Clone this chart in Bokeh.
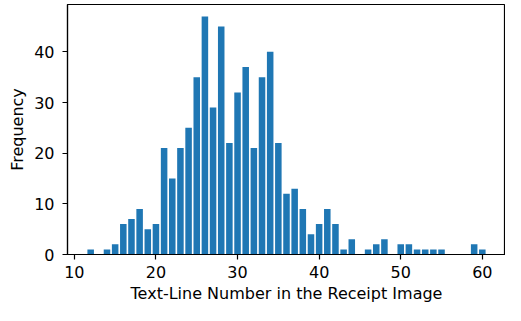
from bokeh.plotting import figure
from bokeh.models import Range1d, FixedTicker, ColumnDataSource
from bokeh.embed import file_html
from bokeh.resources import INLINE

line_numbers = [12, 13, 14, 15, 16, 17, 18, 19, 20, 21, 22, 23, 24, 25, 26, 27, 28, 29, 30,
                31, 32, 33, 34, 35, 36, 37, 38, 39, 40, 41, 42, 43, 44, 45, 46, 47, 48, 49,
                50, 51, 52, 53, 54, 55, 56, 57, 58, 59, 60]
frequency = [1, 0, 1, 2, 6, 7, 9, 5, 6, 21, 15, 21, 25, 35, 47, 29, 45, 22, 32,
             37, 21, 35, 40, 22, 12, 13, 9, 4, 6, 9, 6, 1, 3, 0, 1, 2, 3, 0,
             2, 2, 1, 1, 1, 1, 0, 0, 0, 2, 1]
x_ticks = [10, 20, 30, 40, 50, 60]
y_ticks = [0, 10, 20, 30, 40]

src = ColumnDataSource(data=dict(x=line_numbers, top=frequency))

bar_w = 0.8
xmin, xmax = min(line_numbers) - bar_w / 2, max(line_numbers) + bar_w / 2
pad = (xmax - xmin) * 0.05
ymax = max(frequency) * 1.05

p = figure(width=505, height=305, output_backend="svg", toolbar_location=None,
           x_range=Range1d(xmin - pad, xmax + pad), y_range=Range1d(0, ymax),
           min_border_left=67, min_border_right=0, min_border_top=4, min_border_bottom=10)

p.vbar(x="x", top="top", width=bar_w, source=src, color="#1f77b4", line_color=None)

p.grid.visible = False
p.outline_line_color = "black"
p.outline_line_width = 1.2
p.background_fill_color = "white"
p.border_fill_color = "white"

for ax in (p.xaxis[0], p.yaxis[0]):
    ax.minor_tick_line_color = None
    ax.major_tick_out = 5
    ax.major_tick_in = 0
    ax.major_tick_line_color = "black"
    ax.major_tick_line_width = 1.2
    ax.axis_line_color = "black"
    ax.axis_line_width = 1.2
    ax.major_label_text_font = "DejaVu Sans"
    ax.major_label_text_font_size = "16px"
    ax.major_label_text_color = "black"
    ax.axis_label_text_font = "DejaVu Sans"
    ax.axis_label_text_font_size = "16px"
    ax.axis_label_text_font_style = "normal"
    ax.axis_label_text_color = "black"

p.xaxis[0].ticker = FixedTicker(ticks=x_ticks)
p.yaxis[0].ticker = FixedTicker(ticks=y_ticks)
p.xaxis[0].axis_label = "Text-Line Number in the Receipt Image"
p.yaxis[0].axis_label = "Frequency"
p.xaxis[0].major_label_standoff = 6
p.xaxis[0].axis_label_standoff = 3
p.yaxis[0].major_label_standoff = 8
p.yaxis[0].axis_label_standoff = 4

open("out.html", "w").write(file_html(p, INLINE))
